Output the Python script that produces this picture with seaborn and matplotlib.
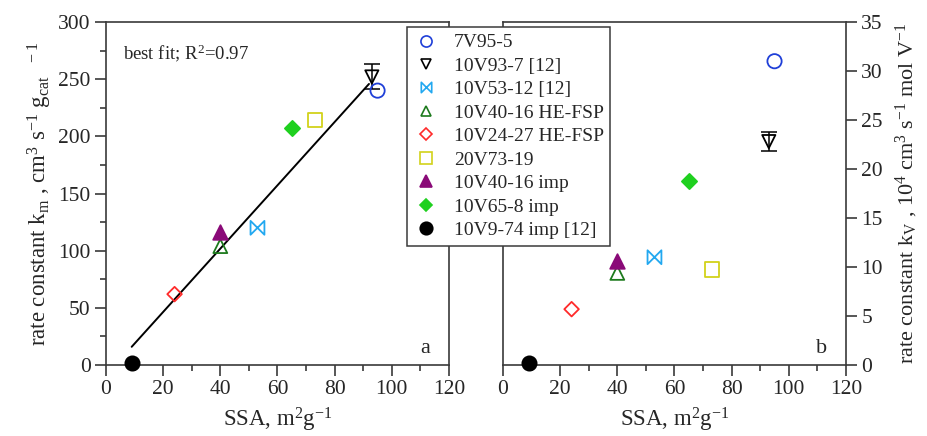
import numpy as np
import pandas as pd
import matplotlib.pyplot as plt
import seaborn as sns
from matplotlib.lines import Line2D
from matplotlib.path import Path
from matplotlib.ticker import MultipleLocator

# --- data ---
samples = ["7V95-5", "10V93-7 [12]", "10V53-12 [12]", "10V40-16 HE-FSP",
           "10V24-27 HE-FSP", "20V73-19", "10V40-16 imp", "10V65-8 imp",
           "10V9-74 imp [12]"]
ssa = [95, 93, 53, 40, 24, 73, 40, 65, 9]
k_m = [240, 252, 120, 104, 62, 214, 116, 207, 1.5]          # cm3 s-1 gcat-1
k_m_err = [0, 11, 0, 0, 0, 0, 0, 0, 0]
k_v = [31.0, 22.8, 11.0, 9.4, 5.7, 9.75, 10.6, 18.8, 0.2]   # 1e4 cm3 s-1 mol V-1
k_v_err = [0, 1.0, 0, 0, 0, 0, 0, 0, 0]

# best fit line of panel a (R^2 = 0.97)
fit_slope, fit_intercept = 2.77, -9.0
fit_x = [9, 92]

# --- styling ---
bowtie = Path([(-1, 1), (-1, -1), (1, 1), (1, -1), (-1, 1)],
              [Path.MOVETO, Path.LINETO, Path.LINETO, Path.LINETO, Path.CLOSEPOLY])
colors = ["#1f3fd8", "black", "#22a8f0", "#1d7a1d", "#ff2a2a", "#d2d21a",
          "#8a0a78", "#1fd01f", "black"]
markers = ["o", "v", bowtie, "^", "D", "s", "^", "D", "o"]
filled = [False, False, False, False, False, False, True, True, True]
sizes = [105, 90, 100, 100, 55, 105, 110, 60, 105]
leg_sizes = [8, 7.5, 7.5, 7.5, 6, 8, 8.5, 6.5, 9]

sns.set_style("ticks")
plt.rcParams["font.family"] = ["Liberation Serif", "DejaVu Serif"]
plt.rcParams["mathtext.fontset"] = "custom"
plt.rcParams["mathtext.rm"] = "Liberation Serif"
plt.rcParams["mathtext.default"] = "regular"

df = pd.DataFrame({"sample": samples, "ssa": ssa, "k_m": k_m, "k_v": k_v})

fig = plt.figure(figsize=(9.27, 4.36), dpi=100)
ax_a = fig.add_axes([0.1143, 0.1628, 0.3701, 0.7867])
ax_b = fig.add_axes([0.5426, 0.1628, 0.3700, 0.7867])


def draw_points(ax, ycol):
    for i, row in df.iterrows():
        sns.scatterplot(x=[row["ssa"]], y=[row[ycol]], ax=ax, marker=markers[i],
                        s=sizes[i], color=colors[i], linewidth=1.3, zorder=3,
                        legend=False)
        pc = ax.collections[-1]
        pc.set_clip_on(False)
        if filled[i]:
            pc.set_facecolor(colors[i])
            pc.set_edgecolor(colors[i])
        else:
            pc.set_facecolor("none")
            pc.set_edgecolor(colors[i])


# panel a
draw_points(ax_a, "k_m")
ax_a.errorbar(df["ssa"][1], df["k_m"][1], yerr=k_m_err[1], fmt="none",
              ecolor="black", elinewidth=1.1, capsize=6, capthick=1.1, zorder=2)
fx = np.array(fit_x)
sns.lineplot(x=fx, y=fit_slope * fx + fit_intercept, ax=ax_a, color="black",
             linewidth=1.4, zorder=2)
ax_a.set_ylim(0, 300)
ax_a.yaxis.set_major_locator(MultipleLocator(50))
ax_a.yaxis.set_minor_locator(MultipleLocator(25))
ax_a.set_ylabel(r"rate constant k$_{m}$ , cm$^{3}$ s$^{-1}$ g$_{cat}$$^{\ \ -1}$",
                fontsize=16.5, labelpad=3)
ax_a.text(0.05, 0.91, r"best fit; R$^{2}$=0.97", transform=ax_a.transAxes,
          fontsize=13.5, va="center")
ax_a.text(0.93, 0.035, "a", transform=ax_a.transAxes, fontsize=16, ha="center")

# panel b
draw_points(ax_b, "k_v")
ax_b.errorbar(df["ssa"][1], df["k_v"][1], yerr=k_v_err[1], fmt="none",
              ecolor="black", elinewidth=1.1, capsize=6, capthick=1.1, zorder=2)
ax_b.set_ylim(0, 35)
ax_b.yaxis.set_major_locator(MultipleLocator(5))
ax_b.yaxis.tick_right()
ax_b.yaxis.set_label_position("right")
ax_b.set_ylabel(r"rate constant k$_{V}$ , 10$^{4}$ cm$^{3}$ s$^{-1}$ mol V$^{-1}$",
                fontsize=16, labelpad=8)
ax_b.text(0.93, 0.035, "b", transform=ax_b.transAxes, fontsize=16, ha="center")

for ax in (ax_a, ax_b):
    ax.set_xlim(0, 120)
    ax.xaxis.set_major_locator(MultipleLocator(20))
    ax.xaxis.set_minor_locator(MultipleLocator(10))
    ax.set_xlabel(r"SSA, m$^{2}$g$^{-1}$", fontsize=16.5, labelpad=5)
    for sp in ax.spines.values():
        sp.set_visible(True)
        sp.set_color("#3a3a3a")
        sp.set_linewidth(1.2)
    ax.tick_params(which="major", length=8, width=1.2, color="#3a3a3a",
                   labelsize=15.5, direction="out", pad=3)
    ax.tick_params(which="minor", length=4, width=1.2, color="#3a3a3a",
                   direction="out")
ax_b.tick_params(axis="y", which="minor", length=0)

# shared legend
handles = []
for i in range(len(samples)):
    handles.append(Line2D([], [], linestyle="none", marker=markers[i],
                          markersize=leg_sizes[i], markeredgewidth=1.2,
                          markeredgecolor=colors[i],
                          markerfacecolor=colors[i] if filled[i] else "none"))
leg = fig.legend(handles, samples, loc="upper left",
                 bbox_to_anchor=(407 / 927, 1 - 27 / 436), fontsize=14,
                 frameon=True, fancybox=False, framealpha=1, edgecolor="#3a3a3a",
                 handlelength=1.3, handletextpad=0.75, labelspacing=0.30,
                 borderpad=0.35, borderaxespad=0)
leg.get_frame().set_linewidth(1.1)

fig.savefig("out.png", dpi=100)
